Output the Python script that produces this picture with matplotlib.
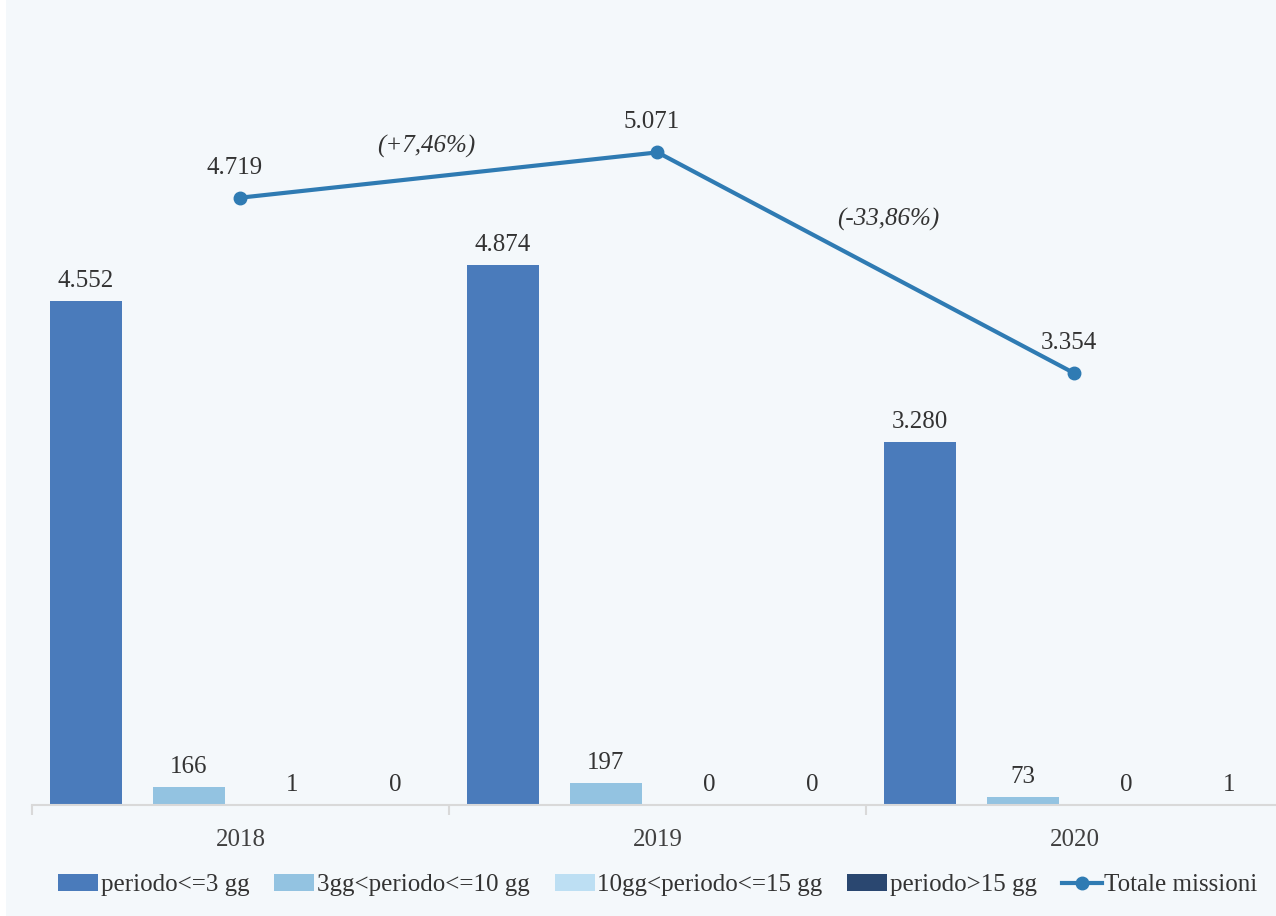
import matplotlib
matplotlib.use("Agg")
import matplotlib.pyplot as plt
import numpy as np

years = ["2018", "2019", "2020"]
series_names = ["periodo<=3 gg", "3gg<periodo<=10 gg", "10gg<periodo<=15 gg", "periodo>15 gg"]
s1 = [4552, 4874, 3280]
s2 = [166, 197, 73]
s3 = [1, 0, 0]
s4 = [0, 0, 1]
totals = [4719, 5071, 3354]
total_name = "Totale missioni"
changes = ["(+7,46%)", "(-33,86%)"]

colors = ["#4A7BBB", "#93C3E1", "#BDDFF3", "#2A4770"]
line_color = "#2F7BB3"
bg = "#F4F8FB"

def fmt(v):
    return f"{v:,}".replace(",", ".")

plt.rcParams['font.family'] = ['Liberation Serif', 'DejaVu Serif']
W, H = 1276, 916
fig = plt.figure(figsize=(W / 100, H / 100), dpi=100, facecolor=bg)
fig.patches.append(plt.Rectangle((0, 0), 6 / W, 1, transform=fig.transFigure,
                                 facecolor="white", edgecolor="none", zorder=-1))

left_px, right_px = 32, 1283
bottom_px, top_px = 805, 30
ax = fig.add_axes([left_px / W, 1 - bottom_px / H, (right_px - left_px) / W, (bottom_px - top_px) / H])
ax.set_facecolor("none")
ax2 = ax.twinx()

ax.set_ylim(0, (bottom_px - top_px) / 0.1107)
ax2.set_ylim(0, (bottom_px - top_px) / 0.1287)
ax.set_xlim(-0.5, 2.5)

x = np.arange(len(years))
bw = 0.175
step = 0.247
data = [s1, s2, s3, s4]
fs = 18
tc = "#333333"
for i, (vals, c, name) in enumerate(zip(data, colors, series_names)):
    pos = x + (i - 1.5) * step
    ax.bar(pos, vals, width=bw, color=c, label=name, zorder=2)
    for p, v in zip(pos, vals):
        ax.annotate(fmt(v), (p, v), xytext=(0, 9), textcoords="offset pixels",
                    ha="center", va="bottom", fontsize=fs, color=tc)

ln, = ax2.plot(x, totals, color=line_color, lw=3, marker="o", markersize=9,
               label=total_name, zorder=3)
for xi, v in zip(x, totals):
    ax2.annotate(fmt(v), (xi, v), xytext=(-6, 19), textcoords="offset pixels",
                 ha="center", va="bottom", fontsize=fs, color=tc)
offsets = [(-23, 29), (22, 43)]
for k, txt in enumerate(changes):
    xm = (x[k] + x[k + 1]) / 2
    ym = (totals[k] + totals[k + 1]) / 2
    ax2.annotate(txt, (xm, ym), xytext=offsets[k], textcoords="offset pixels",
                 ha="center", va="center", fontsize=fs, style="italic", color=tc)

for a in (ax, ax2):
    for s in ("top", "right", "left"):
        a.spines[s].set_visible(False)
    a.set_yticks([])
ax2.spines["bottom"].set_visible(False)
ax.spines["bottom"].set_color("#D9D9D9")
ax.spines["bottom"].set_linewidth(1.5)
ax.set_xticks([-0.5, 0.5, 1.5, 2.5])
ax.set_xticklabels([])
ax.tick_params(axis="x", length=7, color="#D9D9D9", width=1.5)
ax.set_xticks(x, minor=True)
ax.set_xticklabels(years, minor=True, fontsize=fs, color="#404040")
ax.tick_params(axis="x", which="minor", length=0, pad=17)

handles = ax.get_legend_handles_labels()[0] + [ln]
labels = series_names + [total_name]
fig.legend(handles, labels, loc="center", bbox_to_anchor=(658 / W, 1 - 885 / H), ncol=5,
           frameon=False, fontsize=fs, handlelength=1.6, handleheight=0.7,
           handletextpad=0.1, columnspacing=1.0, labelcolor=tc)

fig.savefig("out.png", dpi=100, facecolor=bg)
